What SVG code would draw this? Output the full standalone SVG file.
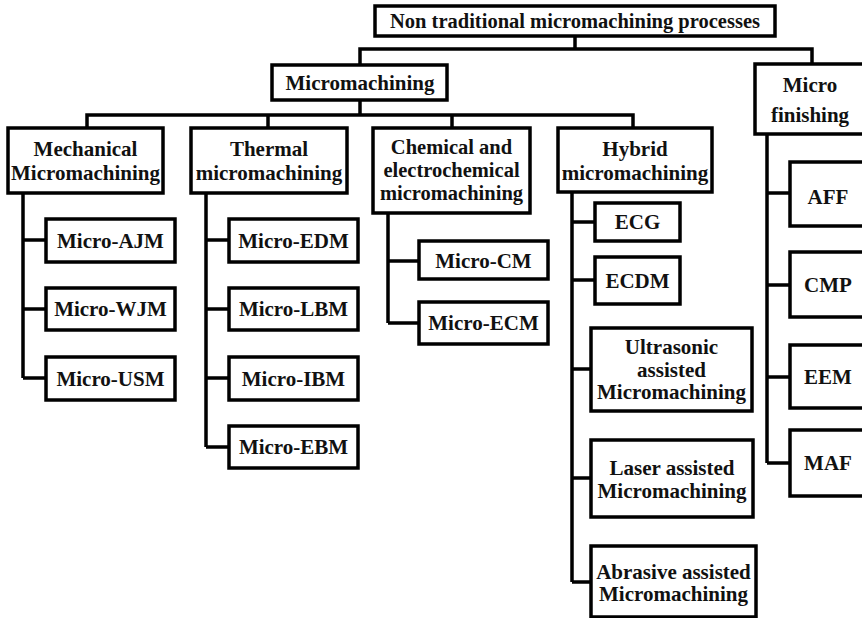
<svg xmlns="http://www.w3.org/2000/svg" width="862" height="618" viewBox="0 0 862 618">
<style>
rect{fill:#fff;stroke:#000;stroke-width:3.5}
text{font-family:'Liberation Serif','Times New Roman',serif;font-weight:700;font-size:21px;fill:#111;text-anchor:middle}
.s{font-size:20.5px}
#connectors path{fill:none;stroke:#000;stroke-width:3.5}
</style>
<rect x="0" y="0" width="862" height="618" style="stroke:none"/>
<g id="connectors">
<path d="M575,36V49M360,65V49H812V64"/>
<path d="M360,100V115M87,128V115H633V128M268,115V128M452,115V128"/>
<path d="M23,193V378M23,240H46M23,309H46M23,378H46"/>
<path d="M206,193V447M206,240H229M206,309H229M206,378H229M206,447H229"/>
<path d="M388,213V323M388,261H419M388,323H419"/>
<path d="M572,192V582M572,222H595M572,280H595M572,369H591M572,478H591M572,582H591"/>
<path d="M767,134V463M767,193H790M767,285H790M767,377H790M767,463H790"/>
</g>
<g id="root"><rect x="375" y="6" width="400" height="30"/><text class="s" x="575" y="28">Non traditional micromachining processes</text></g>
<g id="micromachining"><rect x="272" y="65" width="175" height="35"/><text x="360" y="90">Micromachining</text></g>
<g id="microfinishing"><rect x="755" y="64" width="125" height="70"/><text x="810" y="92">Micro</text><text x="810" y="122">finishing</text></g>
<g id="mechanical"><rect x="8" y="128" width="155" height="65"/><text x="85.5" y="156">Mechanical</text><text x="85.5" y="180">Micromachining</text></g>
<g id="thermal"><rect x="191" y="128" width="156" height="65"/><text x="269" y="156">Thermal</text><text x="269" y="180">micromachining</text></g>
<g id="chemical"><rect x="373" y="128" width="157" height="85"/><text class="s" x="451.5" y="154">Chemical and</text><text class="s" x="451.5" y="177">electrochemical</text><text class="s" x="451.5" y="200">micromachining</text></g>
<g id="hybrid"><rect x="558" y="128" width="154" height="64"/><text x="635" y="156">Hybrid</text><text x="635" y="180">micromachining</text></g>
<g id="ajm"><rect x="46" y="219" width="129" height="43"/><text x="110.5" y="248">Micro-AJM</text></g>
<g id="wjm"><rect x="46" y="288" width="129" height="42"/><text x="110.5" y="316">Micro-WJM</text></g>
<g id="usm"><rect x="46" y="357" width="129" height="43"/><text x="110.5" y="386">Micro-USM</text></g>
<g id="edm"><rect x="229" y="219" width="129" height="43"/><text x="293.5" y="248">Micro-EDM</text></g>
<g id="lbm"><rect x="229" y="288" width="129" height="42"/><text x="293.5" y="316">Micro-LBM</text></g>
<g id="ibm"><rect x="229" y="357" width="129" height="43"/><text x="293.5" y="386">Micro-IBM</text></g>
<g id="ebm"><rect x="229" y="426" width="129" height="42"/><text x="293.5" y="454">Micro-EBM</text></g>
<g id="cm"><rect x="419" y="241" width="129" height="38"/><text x="483.5" y="268">Micro-CM</text></g>
<g id="ecm"><rect x="419" y="302" width="129" height="42"/><text x="483.5" y="330">Micro-ECM</text></g>
<g id="ecg"><rect x="595" y="203" width="85" height="38"/><text x="637.5" y="229">ECG</text></g>
<g id="ecdm"><rect x="595" y="257" width="85" height="47"/><text x="637.5" y="288">ECDM</text></g>
<g id="ultrasonic"><rect x="591" y="328" width="161" height="83"/><text x="671.5" y="354">Ultrasonic</text><text x="671.5" y="377">assisted</text><text x="671.5" y="399">Micromachining</text></g>
<g id="laser"><rect x="591" y="440" width="162" height="77"/><text x="672" y="475">Laser assisted</text><text x="672" y="498">Micromachining</text></g>
<g id="abrasive"><rect x="591" y="546" width="165" height="71"/><text x="673.5" y="579">Abrasive assisted</text><text x="673.5" y="601">Micromachining</text></g>
<g id="aff"><rect x="790" y="162" width="90" height="64"/><text x="828" y="204">AFF</text></g>
<g id="cmp"><rect x="790" y="252" width="90" height="65"/><text x="828" y="292">CMP</text></g>
<g id="eem"><rect x="790" y="345" width="90" height="63"/><text x="828" y="384">EEM</text></g>
<g id="maf"><rect x="790" y="430" width="90" height="66"/><text x="828" y="470">MAF</text></g>
</svg>
